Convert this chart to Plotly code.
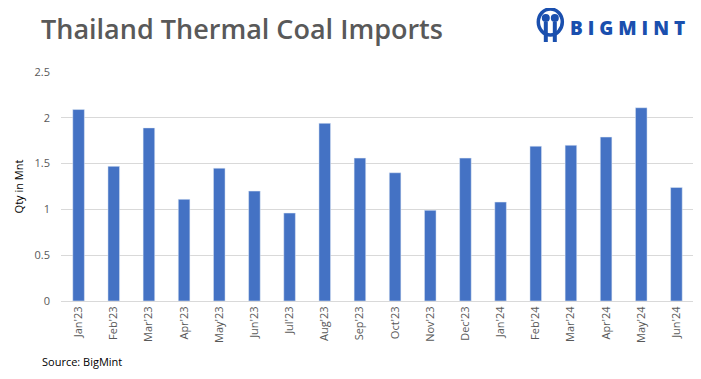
import plotly.graph_objects as go

months = ["Jan'23", "Feb'23", "Mar'23", "Apr'23", "May'23", "Jun'23", "Jul'23", "Aug'23",
          "Sep'23", "Oct'23", "Nov'23", "Dec'23", "Jan'24", "Feb'24", "Mar'24", "Apr'24",
          "May'24", "Jun'24"]
imports_mnt = [2.09, 1.47, 1.89, 1.11, 1.45, 1.20, 0.96, 1.94, 1.56, 1.40, 0.99, 1.56,
               1.08, 1.69, 1.70, 1.79, 2.11, 1.24]
y_ticks = [0, 0.5, 1, 1.5, 2, 2.5]
y_tick_labels = ["0", "0.5", "1", "1.5", "2", "2.5"]

# page body has an 8px margin: figure is drawn from (8, 8)
PL, PR, PT, PB = 61, 693.6, 72, 301   # plot area in window pixels


def px(x):
    return (x - PL) / (PR - PL)


def py(y):
    return (PB - y) / (PB - PT)


BLUE = "#1A4FAE"

fig = go.Figure(go.Bar(x=months, y=imports_mnt, marker_color="#4472C4", width=0.33))

fig.update_layout(
    width=693, height=371,
    margin=dict(l=PL - 8, r=701 - PR, t=PT - 8, b=379 - PB, autoexpand=False),
    paper_bgcolor="white", plot_bgcolor="white",
    font=dict(family="Open Sans, Liberation Sans, sans-serif", color="#595959", size=11),
    showlegend=False,
)
fig.update_xaxes(
    tickangle=-90, tickfont=dict(size=11, color="#595959"), automargin=False,
    showline=True, linecolor="#D9D9D9", linewidth=1, ticks="",
)
fig.update_yaxes(
    range=[0, 2.5], tickvals=y_ticks, ticktext=y_tick_labels, automargin=False,
    showgrid=True, gridcolor="#D9D9D9", gridwidth=1, zeroline=False,
    tickfont=dict(size=11, color="#595959"), ticks="", ticklabelstandoff=10,
    title=dict(text="Qty in Mnt", font=dict(size=11, color="#000000"), standoff=8),
)

fig.add_annotation(text="Thailand Thermal Coal Imports", xref="paper", yref="paper",
                   x=px(39), y=py(28), xanchor="left", yanchor="middle",
                   showarrow=False, font=dict(size=27, color="#595959", weight=600,
                                              family="Open Sans, sans-serif"))
fig.add_annotation(text="Source: BigMint", xref="paper", yref="paper",
                   x=px(40), y=py(361), xanchor="left", yanchor="middle",
                   showarrow=False, font=dict(size=11, color="#000000"))
# logo
fig.add_annotation(text="B I G M I N T", xref="paper", yref="paper",
                   x=px(687), y=py(28), xanchor="right", yanchor="middle",
                   showarrow=False, font=dict(size=19, color=BLUE, weight=800,
                                              family="Open Sans, sans-serif"))
fig.add_shape(type="circle", xref="paper", yref="paper",
              x0=px(538), x1=px(562), y0=py(35), y1=py(9),
              fillcolor="rgba(0,0,0,0)", line=dict(width=3.5, color=BLUE))
for cx in (545.5, 554.5):
    fig.add_shape(type="circle", xref="paper", yref="paper",
                  x0=px(cx - 4), x1=px(cx + 4), y0=py(22), y1=py(14),
                  fillcolor=BLUE, line=dict(width=0))
    fig.add_shape(type="rect", xref="paper", yref="paper",
                  x0=px(cx - 2), x1=px(cx + 2), y0=py(42), y1=py(22),
                  fillcolor=BLUE, line=dict(width=0))

fig.write_html("out.html")
